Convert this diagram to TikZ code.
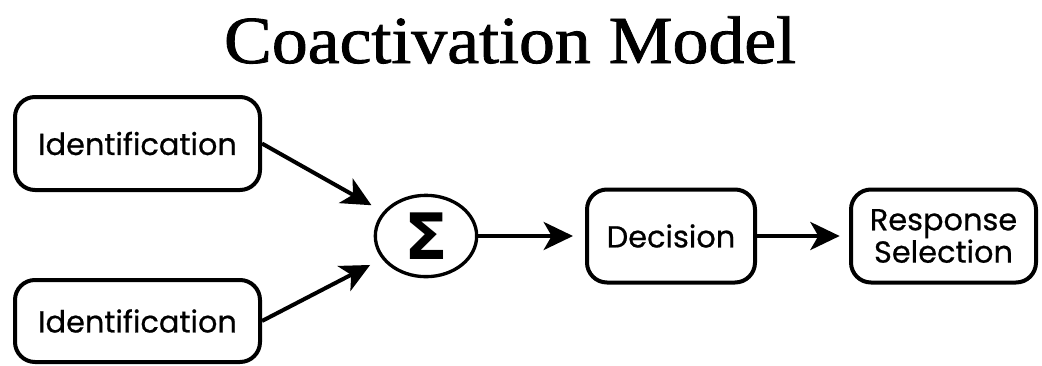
\documentclass[tikz,border=0pt]{standalone}
\usepackage{fontspec}
\setmainfont{Liberation Serif}[FakeBold=1.2]
\newfontfamily\boxfont{Poppins}[FakeBold=0.6]
\newfontfamily\sigfont{DejaVu Sans}
\usetikzlibrary{arrows.meta,shapes.geometric}
\begin{document}
\begin{tikzpicture}[x=0.75pt,y=-0.75pt,
  box/.style={draw, line width=3pt, rounded corners=15pt, inner sep=0pt, align=center,
    font=\boxfont\fontsize{22.8}{20.5}\selectfont},
  arr/.style={-{Stealth[length=22pt,width=21pt,inset=6pt]}, line width=3pt},
  titlefont/.style={font=\rmfamily\fontsize{50}{54}\selectfont}]
\useasboundingbox (0,0) rectangle (1042,365);
\node[titlefont, anchor=base, inner sep=0pt] (title) at (510,63) {\resizebox{429pt}{35pt}{Coactivation Model}};
\node[box, minimum width=183.75pt, minimum height=69.75pt] (id1) at (137.5,143.5) {Identification};
\node[box, minimum width=183.75pt, minimum height=61.5pt] (id2) at (137.5,321) {Identification};
\node[draw, ellipse, line width=2.5pt, minimum width=76pt, minimum height=61pt, inner sep=0pt,
  font=\sigfont\bfseries\fontsize{48}{48}\selectfont] (sum) at (426,236) {\raisebox{-1pt}{Σ}};
\node[box, minimum width=126pt, minimum height=69.75pt] (dec) at (671,236) {Decision};
\node[box, minimum width=138.75pt, minimum height=69.75pt] (resp) at (943.5,236) {Response\\Selection};
\draw[arr, shorten >=10pt] (id1.east) -- (sum);
\draw[arr, shorten >=10pt] (id2.east) -- (sum);
\draw[arr, shorten >=9pt] (sum.east) -- (dec.west);
\draw[arr, shorten >=7pt] (dec.east) -- (resp.west);
\end{tikzpicture}
\end{document}
